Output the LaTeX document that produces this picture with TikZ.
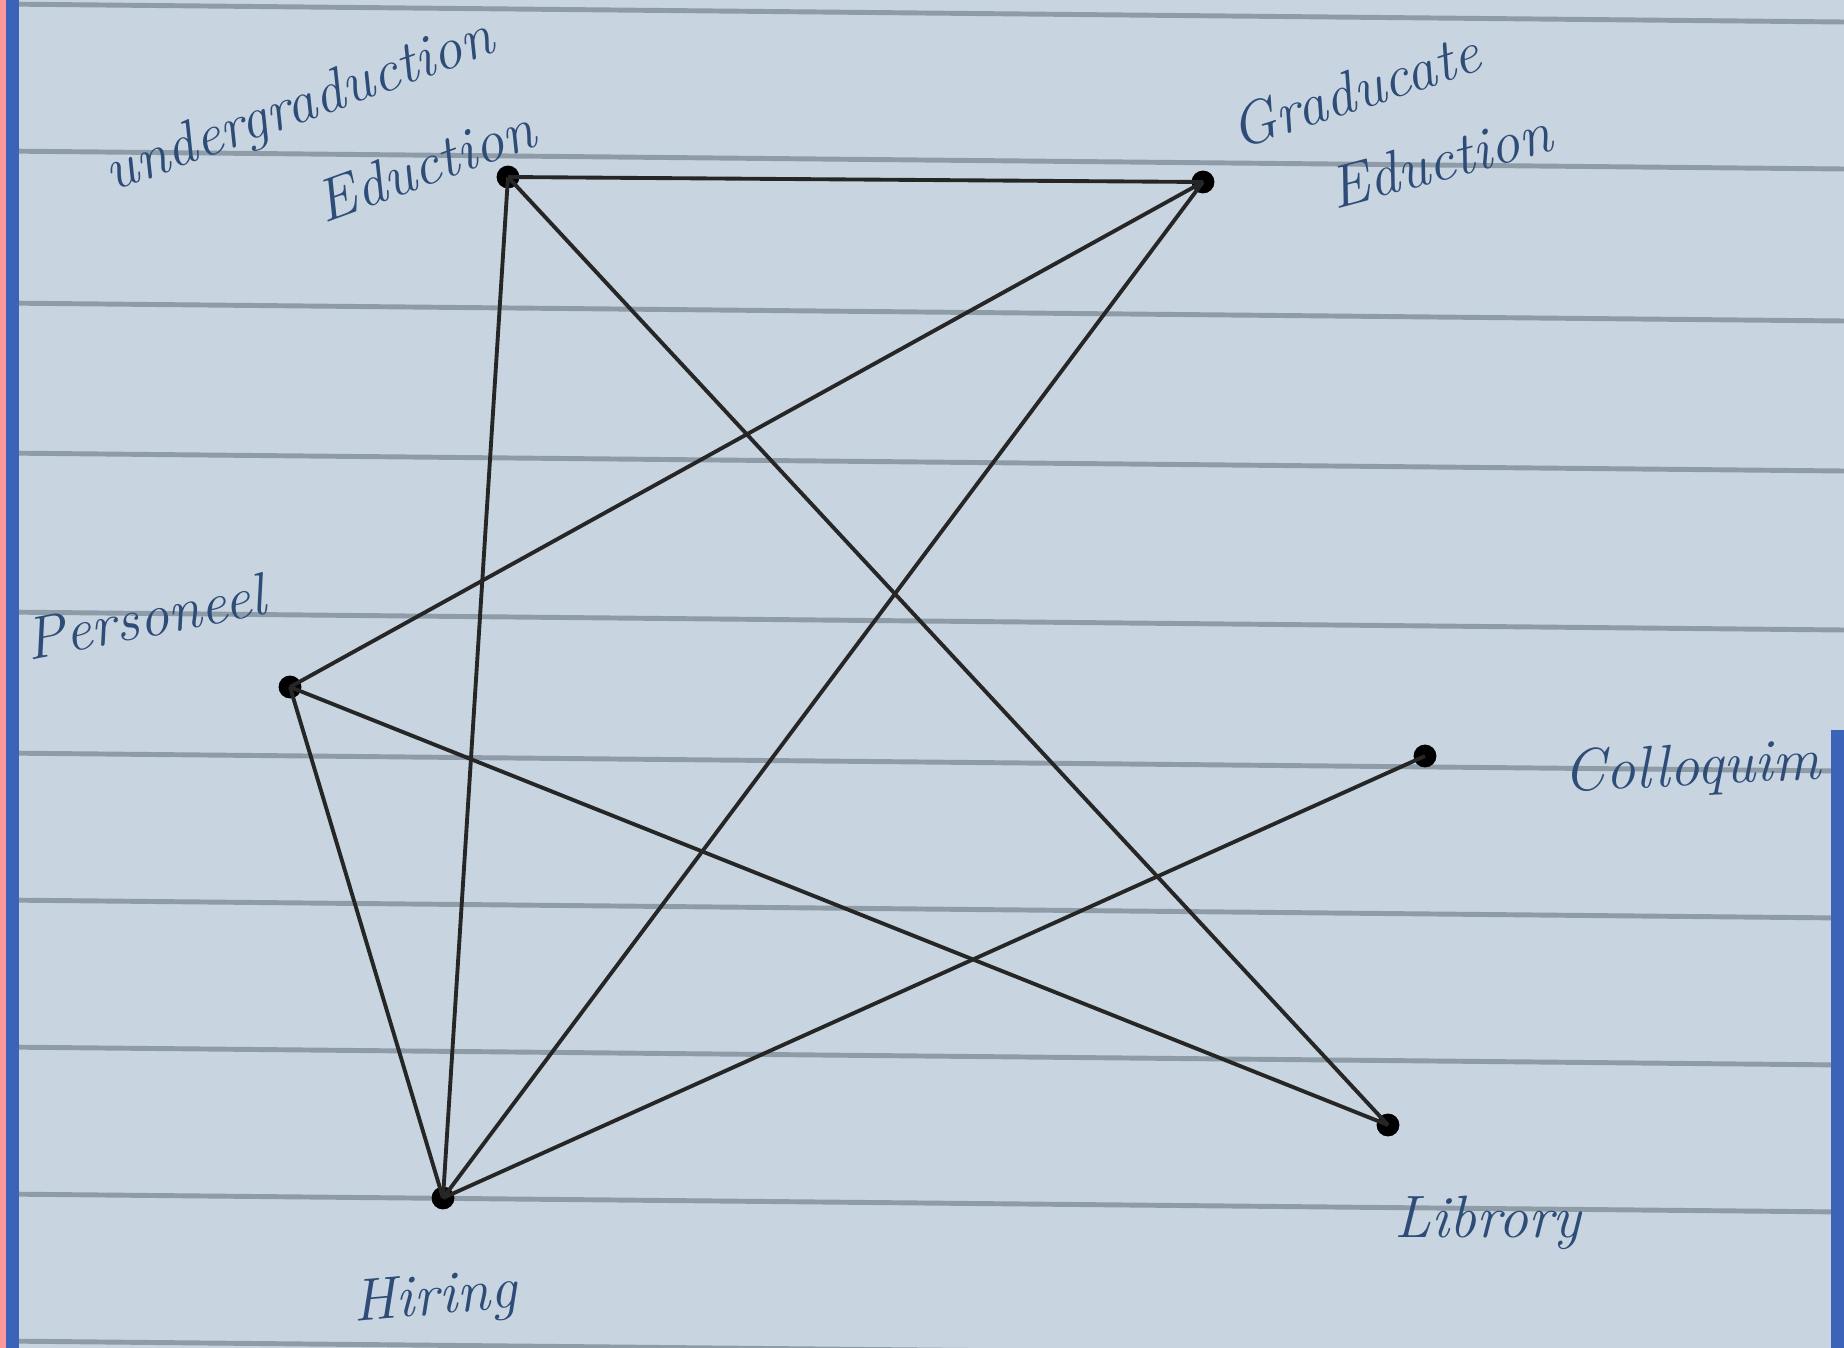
\documentclass[tikz,border=0pt]{standalone}
\usepackage{tikz}
\usetikzlibrary{positioning}
\definecolor{paper}{HTML}{C8D5E0}
\definecolor{rule}{HTML}{8E9CA8}
\definecolor{margin}{HTML}{3B63B8}
\definecolor{ink}{HTML}{2E4C78}

\begin{document}
\begin{tikzpicture}[x=0.01cm,y=-0.01cm,
    vtx/.style={circle,fill=black,inner sep=0pt,minimum size=6.5pt},
    lbl/.style={text=ink,font=\fontsize{17}{20}\selectfont\itshape,inner sep=0pt},
    edge/.style={line width=1.1pt,black!85}]
  % paper
  \fill[paper] (0,0) rectangle (1844,1348);
  \useasboundingbox (0,0) rectangle (1844,1348);
  \foreach \yy in {4,151,303,453,612,753,900,1047,1194,1341}
    \draw[rule,line width=1.4pt] (0,\yy) -- (1844,\yy+18);
  \draw[margin,line width=4pt] (12,0) -- (12,1348);
  \draw[red!40,line width=1.5pt] (3,0) -- (3,1348);
  \draw[margin,line width=4pt] (1838,730) -- (1838,1348);

  % vertices
  \node[vtx] (ug) at (508,177) {};
  \node[vtx] (grad) at (1203,182) {};
  \node[vtx] (pers) at (290,687) {};
  \node[vtx] (coll) at (1425,756) {};
  \node[vtx] (lib) at (1388,1125) {};
  \node[vtx] (hire) at (443,1198) {};

  % labels
  \node[lbl,rotate=20] (ug1) at (300,108) {undergraduction};
  \node[lbl,rotate=20] (ug2) at (425,165) {Eduction};
  \node[lbl,rotate=18] (gr1) at (1355,90) {Graducate};
  \node[lbl,rotate=15] (gr2) at (1440,160) {Eduction};
  \node[lbl,rotate=11] (pl) at (145,617) {Personeel};
  \node[lbl,rotate=3] (cl) at (1692,770) {Colloquim};
  \node[lbl] (ll) at (1488,1223) {Librory};
  \node[lbl,rotate=5] (hl) at (435,1300) {Hiring};

  % edges
  \draw[edge] (ug.center) -- (grad.center);
  \draw[edge] (ug.center) -- (hire.center);
  \draw[edge] (ug.center) -- (lib.center);
  \draw[edge] (grad.center) -- (pers.center);
  \draw[edge] (grad.center) -- (hire.center);
  \draw[edge] (pers.center) -- (hire.center);
  \draw[edge] (pers.center) -- (lib.center);
  \draw[edge] (coll.center) -- (hire.center);
\end{tikzpicture}
\end{document}
